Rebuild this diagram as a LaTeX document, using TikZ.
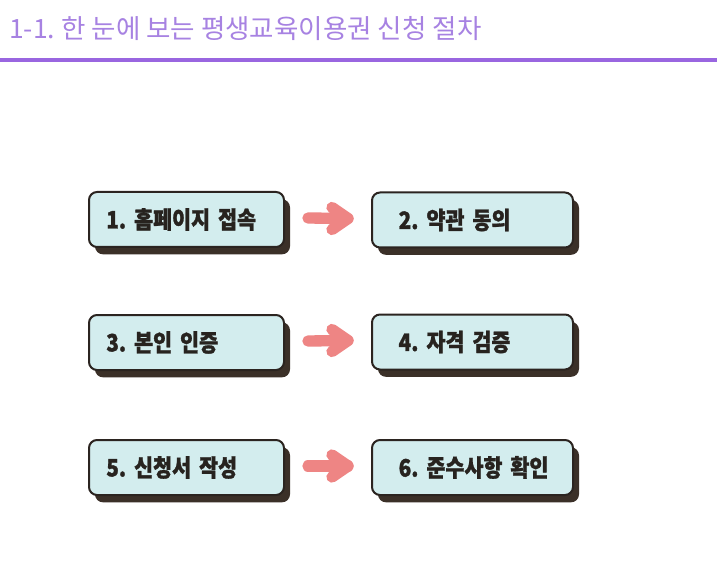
\documentclass[tikz,border=0pt]{standalone}
\usepackage{fontspec}
\newfontfamily\kr{Noto Sans CJK KR}
\newfontfamily\krc{Noto Sans CJK KR}[FakeStretch=0.86, BoldFeatures={FakeBold=1.2}]
\usetikzlibrary{shadows,calc}
\frenchspacing
\definecolor{titlec}{HTML}{A782E2}
\definecolor{linec}{HTML}{9966E0}
\definecolor{arrowc}{HTML}{EE8584}
\definecolor{facec}{HTML}{D3EDEE}
\definecolor{edgec}{HTML}{2B2420}
\definecolor{shadowc}{HTML}{3B3028}
\definecolor{textc}{HTML}{27231F}
\tikzset{
  stepbox/.style={draw=edgec, line width=1.5pt, fill=facec, rounded corners=6pt,
    minimum height=41.25pt, inner ysep=0pt, align=left,
    font=\krc\bfseries\fontsize{18pt}{20pt}\selectfont, text=textc,
    drop shadow={shadow xshift=4.5pt, shadow yshift=-5.5pt, opacity=1, fill=shadowc}},
  leftbox/.style={stepbox, minimum width=146.25pt, inner xsep=13pt, text width=120.25pt},
  rightbox/.style={stepbox, minimum width=150.75pt, inner xsep=20pt, text width=110.75pt},
  flow/.style={arrowc, line width=8.5pt, line cap=round, line join=round}
}
\begin{document}
\begin{tikzpicture}[x=0.75pt, y=-0.75pt]
\useasboundingbox[fill=white] (0,0) rectangle (717,577);
\node[anchor=base west, text=titlec, font=\kr\fontsize{19.9pt}{23pt}\selectfont, inner sep=0pt] (title) at (9,38.5) {1-1. 한 눈에 보는 평생교육이용권 신청 절차};
\coordinate (l1) at (0,60);
\coordinate (l2) at (717,60);
\draw[linec, line width=3pt] (l1) -- (l2);

\node[leftbox] (b1) at (186.5,219.5) {\mbox{1. 홈페이지 접속}};
\node[rightbox] (b2) at (472.5,220) {\mbox{2. 약관 동의}};
\node[leftbox] (b3) at (186.5,342.5) {\mbox{3. 본인 인증}};
\node[rightbox] (b4) at (472.5,342) {\mbox{4. 자격 검증}};
\node[leftbox] (b5) at (186.5,467.5) {\mbox{5. 신청서 작성}};
\node[rightbox] (b6) at (472.5,467.5) {\mbox{6. 준수사항 확인}};

\foreach \a/\b in {b1/b2,b3/b4,b5/b6}{
  \draw[flow] ($(\a.east)+(23,-1.5)$) -- ($(\b.west)+(-23,-1.5)$);
  \draw[flow] ($(\b.west)+(-39,-12.5)$) -- ($(\b.west)+(-23,-1.5)$) -- ($(\b.west)+(-39,9.5)$);
}
\end{tikzpicture}
\end{document}
